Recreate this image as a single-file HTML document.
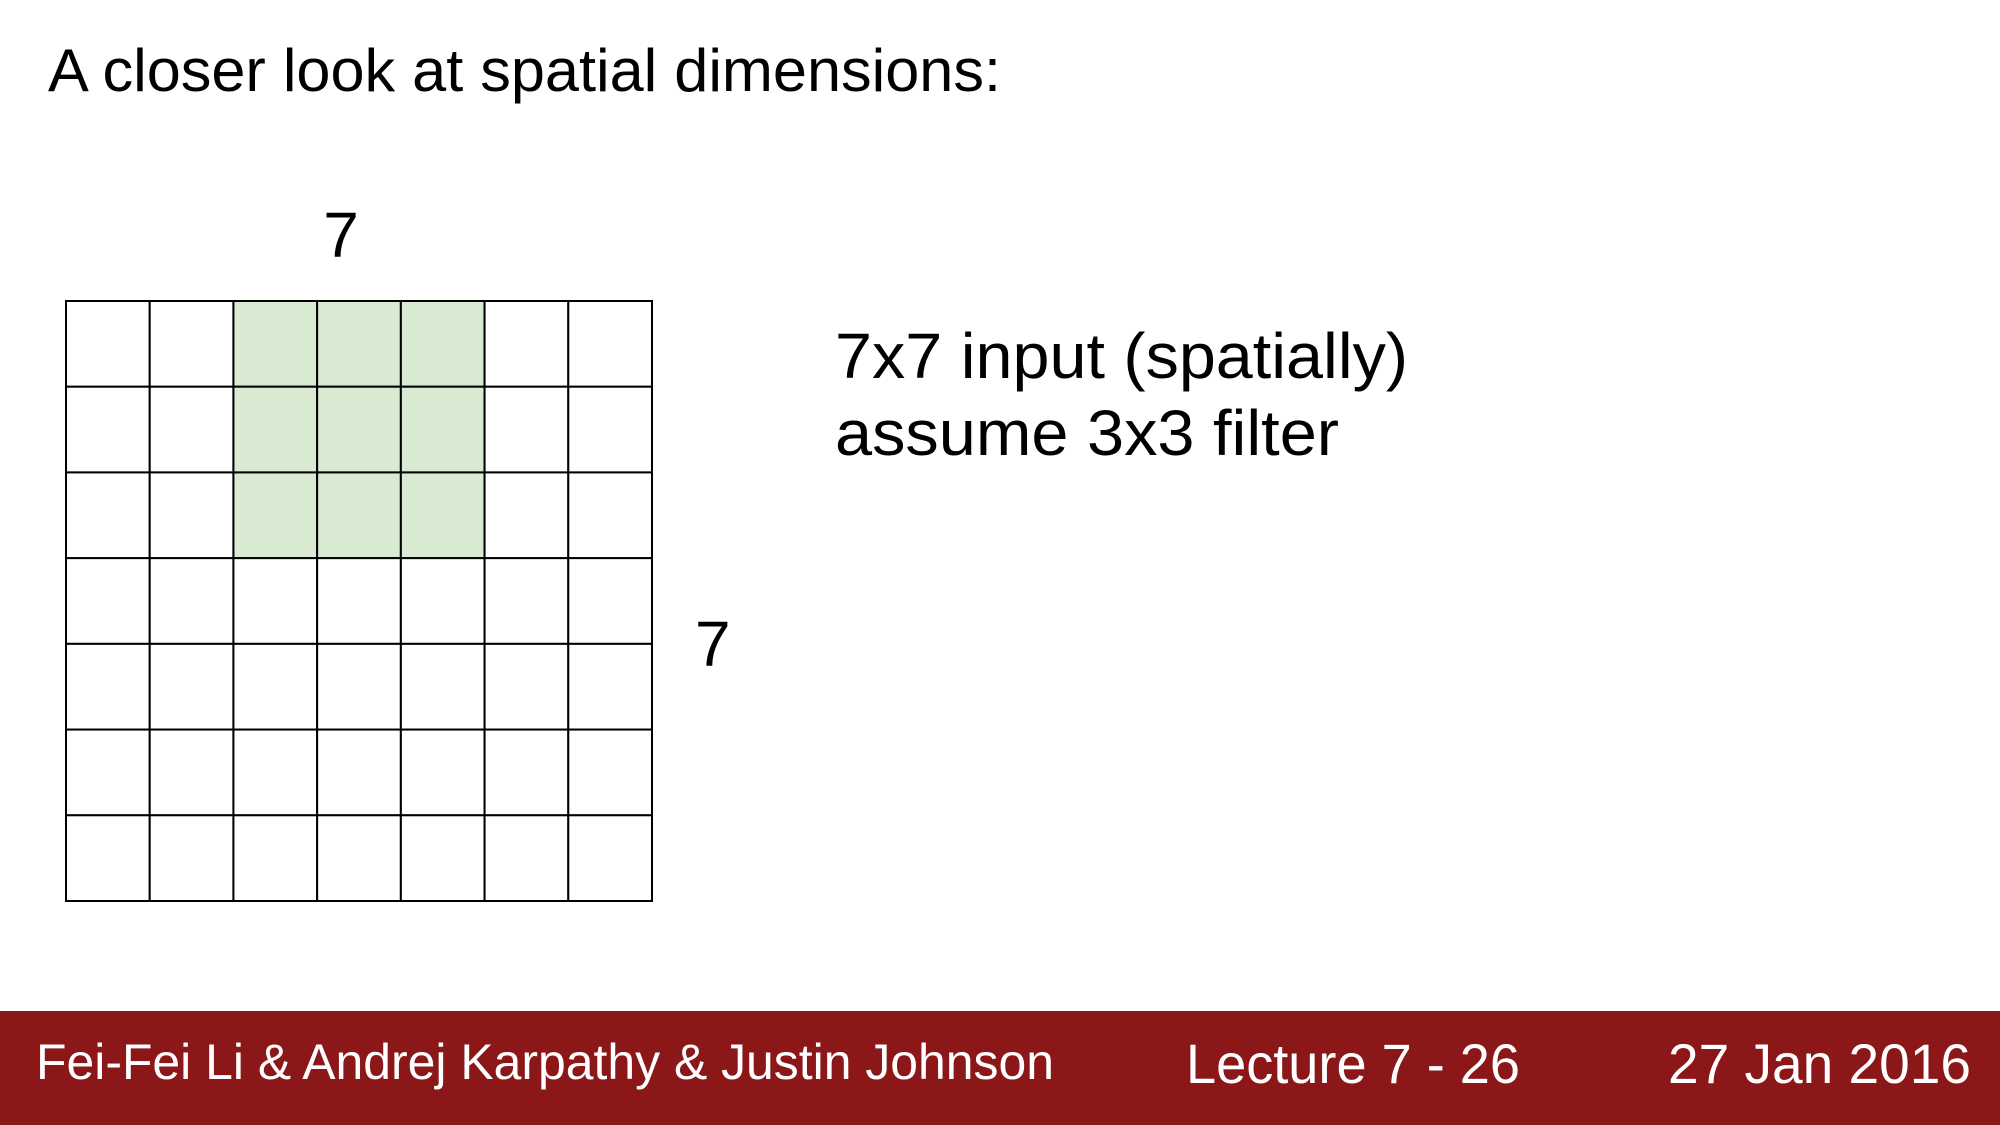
<!DOCTYPE html>
<html><head><meta charset="utf-8"><style>
html,body{margin:0;padding:0;background:#fff;}
svg{display:block;font-family:"Liberation Sans",Arial,sans-serif;}
</style></head><body>
<svg id="s" width="2000" height="1125" viewBox="0 0 2000 1125">
<text x="48" y="91" font-size="60" textLength="953" lengthAdjust="spacingAndGlyphs">A closer look at spatial dimensions:</text>
<g id="grid"></g>
<text x="341" y="257" font-size="64" text-anchor="middle">7</text>
<text x="695" y="666" font-size="64">7</text>
<text x="835" y="378" font-size="64" textLength="573" lengthAdjust="spacingAndGlyphs">7x7 input (spatially)</text>
<text x="835" y="455" font-size="64" textLength="504" lengthAdjust="spacingAndGlyphs">assume 3x3 filter</text>
<rect x="0" y="1011" width="2000" height="114" fill="#8b1719"/>
<text x="36" y="1079" font-size="50" fill="#fff" textLength="1018" lengthAdjust="spacingAndGlyphs">Fei-Fei Li &amp; Andrej Karpathy &amp; Justin Johnson</text>
<text x="1186" y="1083" font-size="56" fill="#fff" textLength="334" lengthAdjust="spacingAndGlyphs">Lecture 7 - 26</text>
<text x="1668" y="1083" font-size="56" fill="#fff" textLength="303" lengthAdjust="spacingAndGlyphs">27 Jan 2016</text>
</svg>
<script>
const gridSize = 7;
const shaded = [[0,2],[0,3],[0,4],[1,2],[1,3],[1,4],[2,2],[2,3],[2,4]];
const x0 = 66, y0 = 301, cw = (652 - 66) / 7, ch = (901 - 301) / 7;
const ns = "http://www.w3.org/2000/svg";
const g = document.getElementById('grid');
function isShaded(r, c) { return shaded.some(p => p[0] === r && p[1] === c); }
for (let r = 0; r < gridSize; r++) {
  for (let c = 0; c < gridSize; c++) {
    const el = document.createElementNS(ns, 'rect');
    el.setAttribute('x', x0 + c * cw);
    el.setAttribute('y', y0 + r * ch);
    el.setAttribute('width', cw);
    el.setAttribute('height', ch);
    el.setAttribute('fill', isShaded(r, c) ? '#d9ead3' : '#ffffff');
    el.setAttribute('stroke', '#000');
    el.setAttribute('stroke-width', '2');
    
    
    g.appendChild(el);
  }
}
</script>
</body></html>
